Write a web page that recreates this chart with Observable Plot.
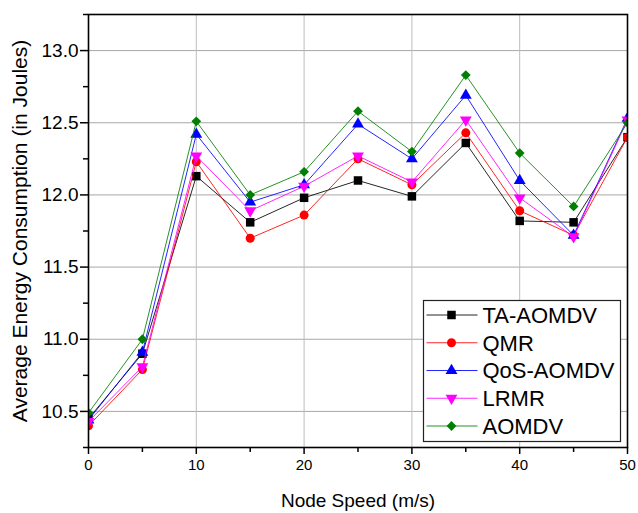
<!DOCTYPE html>
<html>
<head>
<meta charset="utf-8">
<script src="https://cdn.jsdelivr.net/npm/d3@7"></script>
<script src="https://cdn.jsdelivr.net/npm/@observablehq/plot@0.6"></script>
<style>
  body { margin: 0; background: #fff; }
  #chart { position: relative; width: 638px; height: 513px; }
</style>
</head>
<body>
<div id="chart"></div>
<script>
// ---- data ----
const speeds = [0, 5, 10, 15, 20, 25, 30, 35, 40, 45, 50];
const seriesNames = ["TA-AOMDV", "QMR", "QoS-AOMDV", "LRMR", "AOMDV"];
const taAomdv = [10.45, 10.90, 12.13, 11.81, 11.98, 12.10, 11.99, 12.36, 11.82, 11.81, 12.40];
const qmr     = [10.40, 10.79, 12.23, 11.70, 11.86, 12.25, 12.07, 12.43, 11.89, 11.72, 12.40];
const qosAomdv= [10.44, 10.91, 12.42, 11.95, 12.07, 12.49, 12.25, 12.69, 12.10, 11.72, 12.53];
const lrmr    = [10.43, 10.81, 12.27, 11.89, 12.06, 12.27, 12.09, 12.52, 11.98, 11.71, 12.52];
const aomdv   = [10.49, 11.00, 12.51, 12.00, 12.16, 12.58, 12.30, 12.83, 12.29, 11.92, 12.50];
const xTicks = [0, 10, 20, 30, 40, 50];
const xMinorTicks = [5, 15, 25, 35, 45];
const yTicks = [10.5, 11.0, 11.5, 12.0, 12.5, 13.0];
const yMinorTicks = [10.25, 10.75, 11.25, 11.75, 12.25, 12.75, 13.25];
const xLabel = "Node Speed (m/s)";
const yLabel = "Average Energy Consumption (in Joules)";

// ---- styles ----
const colors = ["#000000", "#ff0000", "#0000ff", "#ff00ff", "#008000"];
const sqrt3 = Math.sqrt(3);
const triangleDown = {
  draw(context, size) {
    const y = -Math.sqrt(size / (sqrt3 * 3));
    context.moveTo(0, -y * 2);
    context.lineTo(-sqrt3 * y, y);
    context.lineTo(sqrt3 * y, y);
    context.closePath();
  }
};
const symbols = ["square", "circle", "triangle", triangleDown, "diamond2"];
const d3Symbols = [d3.symbolSquare, d3.symbolCircle, d3.symbolTriangle, triangleDown, d3.symbolDiamond2];
const radii = [4.8, 4.5, 4.4, 4.4, 4.4];

const allValues = [taAomdv, qmr, qosAomdv, lrmr, aomdv];
const tables = allValues.map((vals, k) =>
  speeds.map((s, i) => ({ speed: s, value: vals[i], series: seriesNames[k] }))
);

const seriesMarks = [];
tables.forEach((t, k) => {
  seriesMarks.push(Plot.line(t, { x: "speed", y: "value", stroke: colors[k], strokeWidth: 1, strokeOpacity: 0.85, clip: true }));
  seriesMarks.push(Plot.dot(t, { x: "speed", y: "value", symbol: symbols[k], r: radii[k], fill: colors[k], stroke: "none", clip: true }));
});

const chart = Plot.plot({
  width: 638,
  height: 513,
  marginLeft: 88,
  marginRight: 11,
  marginTop: 14,
  marginBottom: 66,
  style: { fontFamily: "'Liberation Sans', Arial, sans-serif", background: "#fff", color: "#000" },
  x: { domain: [0, 50] },
  y: { domain: [10.25, 13.25] },
  marks: [
    Plot.gridY(yTicks, { stroke: "#a8a8a8", strokeOpacity: 1, strokeWidth: 1 }),
    Plot.gridX(xTicks.slice(1, -1), { stroke: "#bdbdbd", strokeOpacity: 1, strokeWidth: 1 }),
    ...seriesMarks,
    Plot.frame({ stroke: "#000", strokeWidth: 1.6 }),
    Plot.axisX(xTicks, { tickSize: 7, tickPadding: 5, fontSize: 15, label: null, tickFormat: d => String(d), strokeWidth: 1.5 }),
    Plot.axisX(xMinorTicks, { tickSize: 5, text: null, label: null, strokeWidth: 1.5 }),
    Plot.axisY(yTicks, { tickSize: 8, tickPadding: 2, fontSize: 19, label: null, tickFormat: d3.format(".1f"), strokeWidth: 1.5 }),
    Plot.axisY(yMinorTicks, { tickSize: 5, text: null, label: null, strokeWidth: 1.5 }),
    Plot.text([xLabel], { text: d => d, frameAnchor: "bottom", dy: 53, lineAnchor: "middle", textAnchor: "middle", fontSize: 19, fill: "#000" }),
    Plot.text([yLabel], { text: d => d, frameAnchor: "left", rotate: -90, dx: -68, lineAnchor: "middle", textAnchor: "middle", fontSize: 21, fill: "#000" })
  ]
});

// ---- legend ----
const svg = d3.select(chart);
const lg = svg.append("g").attr("transform", "translate(423.5,300.5)");
lg.append("rect").attr("width", 197).attr("height", 141).attr("fill", "#fff").attr("stroke", "#222").attr("stroke-width", 1.2);
seriesNames.forEach((name, k) => {
  const cy = 14.5 + k * 27.75;
  lg.append("line").attr("x1", 3).attr("x2", 54).attr("y1", cy).attr("y2", cy)
    .attr("stroke", colors[k]).attr("stroke-width", 1).attr("stroke-opacity", 0.85);
  lg.append("path").attr("transform", `translate(28,${cy})`)
    .attr("d", d3.symbol(d3Symbols[k], Math.PI * radii[k] * radii[k])())
    .attr("fill", colors[k]);
  lg.append("text").attr("x", 59).attr("y", cy).attr("dy", "0.36em")
    .attr("text-anchor", "start")
    .attr("font-size", 22).attr("fill", "#000").text(name);
});

document.getElementById("chart").appendChild(chart);
</script>
</body>
</html>
